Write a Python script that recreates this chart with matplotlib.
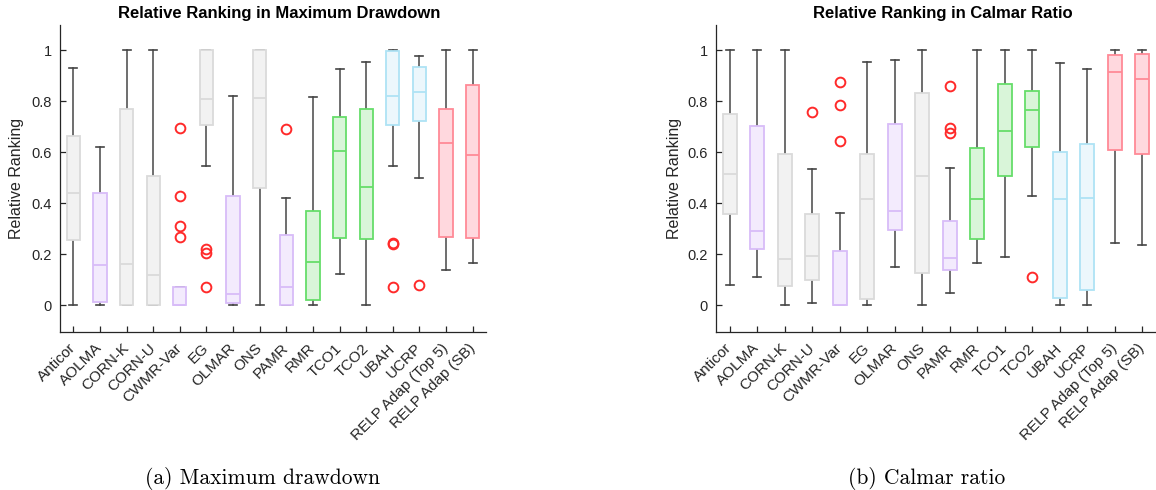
import matplotlib.pyplot as plt

## Relative ranking box plots (max drawdown / calmar ratio)

names = ["Anticor", "AOLMA", "CORN-K", "CORN-U", "CWMR-Var", "EG", "OLMAR", "ONS",
         "PAMR", "RMR", "TCO1", "TCO2", "UBAH", "UCRP",
         "RELP Adap (Top 5)", "RELP Adap (SB)"]
groups = ["gray", "purple", "gray", "gray", "purple", "gray", "purple", "gray",
          "purple", "green", "green", "green", "blue", "blue", "red", "red"]

# (whislo, q1, med, q3, whishi) per strategy
mdd_box = [
    (0.000, 0.255, 0.442, 0.663, 0.931),
    (0.000, 0.013, 0.156, 0.441, 0.620),
    (0.000, 0.000, 0.163, 0.769, 1.000),
    (0.000, 0.000, 0.118, 0.506, 1.000),
    (0.000, 0.000, 0.000, 0.072, 0.072),
    (0.546, 0.706, 0.809, 1.000, 1.000),
    (0.000, 0.007, 0.043, 0.427, 0.821),
    (0.000, 0.458, 0.814, 1.000, 1.000),
    (0.000, 0.000, 0.073, 0.275, 0.421),
    (0.000, 0.020, 0.169, 0.370, 0.817),
    (0.122, 0.264, 0.604, 0.737, 0.925),
    (0.000, 0.258, 0.464, 0.769, 0.954),
    (0.546, 0.707, 0.821, 0.996, 1.000),
    (0.499, 0.724, 0.835, 0.935, 0.978),
    (0.137, 0.267, 0.637, 0.769, 1.000),
    (0.167, 0.264, 0.588, 0.863, 1.000),
]
mdd_out = [[], [], [], [], [0.695, 0.427, 0.310, 0.268], [0.220, 0.203, 0.072],
           [], [], [0.693], [], [], [], [0.246, 0.239, 0.072], [0.081], [], []]

calmar_box = [
    (0.081, 0.358, 0.514, 0.752, 1.000),
    (0.112, 0.222, 0.292, 0.703, 1.000),
    (0.000, 0.075, 0.183, 0.592, 1.000),
    (0.009, 0.098, 0.192, 0.356, 0.535),
    (0.000, 0.000, 0.000, 0.213, 0.362),
    (0.000, 0.026, 0.416, 0.595, 0.953),
    (0.150, 0.295, 0.370, 0.710, 0.961),
    (0.000, 0.127, 0.507, 0.834, 1.000),
    (0.050, 0.137, 0.187, 0.331, 0.540),
    (0.166, 0.259, 0.418, 0.617, 1.000),
    (0.188, 0.508, 0.684, 0.867, 1.000),
    (0.429, 0.620, 0.765, 0.841, 1.000),
    (0.000, 0.027, 0.417, 0.600, 0.952),
    (0.000, 0.061, 0.420, 0.631, 0.928),
    (0.243, 0.608, 0.914, 0.983, 1.000),
    (0.237, 0.592, 0.889, 0.987, 1.000),
]
calmar_out = [[], [], [], [0.757], [0.876, 0.784, 0.643], [], [], [],
              [0.861, 0.695, 0.676], [], [], [0.111], [], [], [], []]

face = {"gray": "#f2f2f2", "purple": "#f3ebfd", "green": "#d9f5d9",
        "blue": "#ecf7fc", "red": "#ffd8de"}
edge = {"gray": "#dadada", "purple": "#d8bcf8", "green": "#66dd6a",
        "blue": "#aee3f5", "red": "#ff8a96"}
dark = "#262626"


def draw(ax, boxes, outs, title):
    stats = []
    for b, o in zip(boxes, outs):
        stats.append(dict(whislo=b[0], q1=b[1], med=b[2], q3=b[3], whishi=b[4], fliers=o))
    pos = list(range(1, len(names) + 1))
    bp = ax.bxp(stats, positions=pos, widths=0.5, capwidths=0.3, patch_artist=True,
                showfliers=True,
                whiskerprops=dict(color="#555555", lw=1.2),
                capprops=dict(color="#444444", lw=1.2),
                flierprops=dict(marker="o", markerfacecolor="none",
                                markeredgecolor="#ff2a2a", markersize=7, mew=1.4, ls="none"))
    for i, g in enumerate(groups):
        bp["boxes"][i].set_facecolor(face[g])
        bp["boxes"][i].set_edgecolor(edge[g])
        bp["boxes"][i].set_linewidth(1.3)
        bp["medians"][i].set_color(edge[g])
        bp["medians"][i].set_linewidth(1.3)
        bp["boxes"][i].set_zorder(3)
        bp["medians"][i].set_zorder(4)
    ax.set_xlim(0.5, 16.5)
    ax.set_ylim(-0.105, 1.1)
    ax.set_yticks([0, 0.2, 0.4, 0.6, 0.8, 1])
    ax.set_yticklabels(["0", "0.2", "0.4", "0.6", "0.8", "1"])
    ax.set_xticks(pos)
    ax.set_xticklabels(names, rotation=45, ha="right", va="center", rotation_mode="anchor")
    for s in ["top", "right"]:
        ax.spines[s].set_visible(False)
    for s in ["left", "bottom"]:
        ax.spines[s].set_color(dark)
        ax.spines[s].set_linewidth(0.9)
    ax.tick_params(direction="in", length=4, width=0.9, color=dark, labelcolor=dark)
    ax.tick_params(axis="y", pad=6, labelsize=10.5)
    ax.tick_params(axis="x", pad=10, labelsize=11)
    ax.set_ylabel("Relative Ranking", fontsize=11.5, color=dark)
    ax.set_title(title, fontsize=12, fontweight="bold", pad=5, x=0.515)


plt.rcParams["font.family"] = ["Liberation Sans", "DejaVu Sans"]
fig = plt.figure(figsize=(11.56, 4.9), dpi=100)
ax1 = fig.add_axes([0.0519, 0.3224, 0.3685, 0.627])
ax2 = fig.add_axes([0.6194, 0.3224, 0.3806, 0.627])

draw(ax1, mdd_box, mdd_out, "Relative Ranking in Maximum Drawdown")
draw(ax2, calmar_box, calmar_out, "Relative Ranking in Calmar Ratio")
ax1.yaxis.set_label_coords(-0.085, 0.5)
ax2.yaxis.set_label_coords(-0.077, 0.5)

fig.text(263 / 1156, 1 - 478 / 490, "(a) Maximum drawdown", ha="center", va="center",
         family="cmr10", fontsize=15.5)
fig.text(927 / 1156, 1 - 478 / 490, "(b) Calmar ratio", ha="center", va="center",
         family="cmr10", fontsize=15.5)

fig.savefig("out.png", dpi=100)
